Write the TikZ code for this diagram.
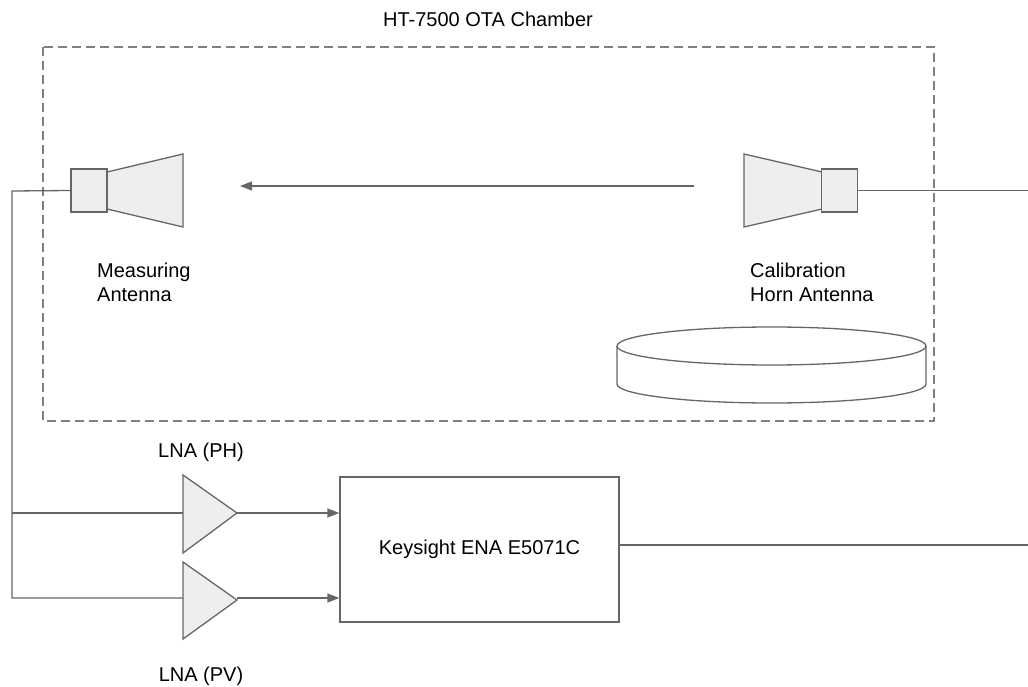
\documentclass[tikz,border=0pt]{standalone}
\usepackage{fontspec}
\setmainfont{Liberation Sans}
\usetikzlibrary{arrows.meta, positioning}

\definecolor{wiregray}{HTML}{666666}
\definecolor{dashgray}{HTML}{7F7F7F}
\definecolor{partgray}{HTML}{EEEEEE}

\tikzset{
    wire/.style={draw=wiregray, line width=1.3pt},
    signal/.style={wire, -{Triangle[length=12pt, width=9pt]}},
    part/.style={wire, fill=partgray, line join=miter},
    feed/.style={part, rectangle, minimum width=36pt, minimum height=43pt, inner sep=0pt},
    caption/.style={font=\fontsize{20}{24}\selectfont, inner sep=0pt},
}

\begin{document}
\begin{tikzpicture}[x=1pt, y=-1pt]
    \useasboundingbox (0,0) rectangle (1028,687);

    % chamber
    \draw[draw=dashgray, line width=1.5pt, dash pattern=on 9pt off 5pt] (43,47) rectangle (934,421);
    \node[caption, anchor=base] (chamber) at (488,27) {HT-7500 OTA Chamber};

    % measuring antenna
    \draw[part] (107,172) -- (183,154) -- (183,227) -- (107,209) -- cycle;
    \node[feed] (measFeed) at (89,190.5) {};
    \node[caption, anchor=north west, align=left] (measLabel) at (97,263) {Measuring\\Antenna};

    % calibration horn antenna
    \draw[part] (822,172) -- (744,154) -- (744,227) -- (822,209) -- cycle;
    \node[feed] (calFeed) at (839.5,190.5) {};
    \node[caption, anchor=north west, align=left] (calLabel) at (750,263) {Calibration\\Horn Antenna};
    \coordinate (calEnd) at (1028,190.5);
    \draw[wire] (calFeed.east) -- (calEnd);

    \coordinate (waveStart) at (694,186);
    \coordinate (waveEnd) at (240,186);
    \draw[signal] (waveStart) -- (waveEnd);

    % turntable
    \draw[wire, fill=white] (617,346) -- (617,384)
        arc[start angle=180, end angle=360, x radius=154.5pt, y radius=19pt] -- (926,346);
    \draw[wire, fill=white] (771.5,346) ellipse [x radius=154.5pt, y radius=19pt];

    % amplifiers
    \draw[part] (183,475) -- (237,513) -- (183,553) -- cycle;
    \coordinate (phIn) at (183,513);
    \coordinate (phOut) at (237,513);
    \node[caption, anchor=base] (phLabel) at (201,457) {LNA (PH)};

    \draw[part] (183,562) -- (237,600) -- (183,639) -- cycle;
    \coordinate (pvIn) at (183,598);
    \coordinate (pvOut) at (237,598);
    \node[caption, anchor=base] (pvLabel) at (201,681) {LNA (PV)};

    % network analyser
    \node[wire, rectangle, minimum width=279pt, minimum height=145pt, font=\fontsize{20}{24}\selectfont] (ena) at (479.5,549.5) {Keysight ENA E5071C};
    \coordinate (enaOut) at (1028,545);

    \coordinate (bend) at (12,191);
    \draw[wire] (measFeed.west) -- (bend) |- (pvIn);
    \draw[wire] (bend |- phIn) -- (phIn);
    \draw[signal] (phOut) -- (ena.west |- phOut);
    \draw[signal] (pvOut) -- (ena.west |- pvOut);
    \draw[wire] (ena.east |- enaOut) -- (enaOut);

\end{tikzpicture}
\end{document}
